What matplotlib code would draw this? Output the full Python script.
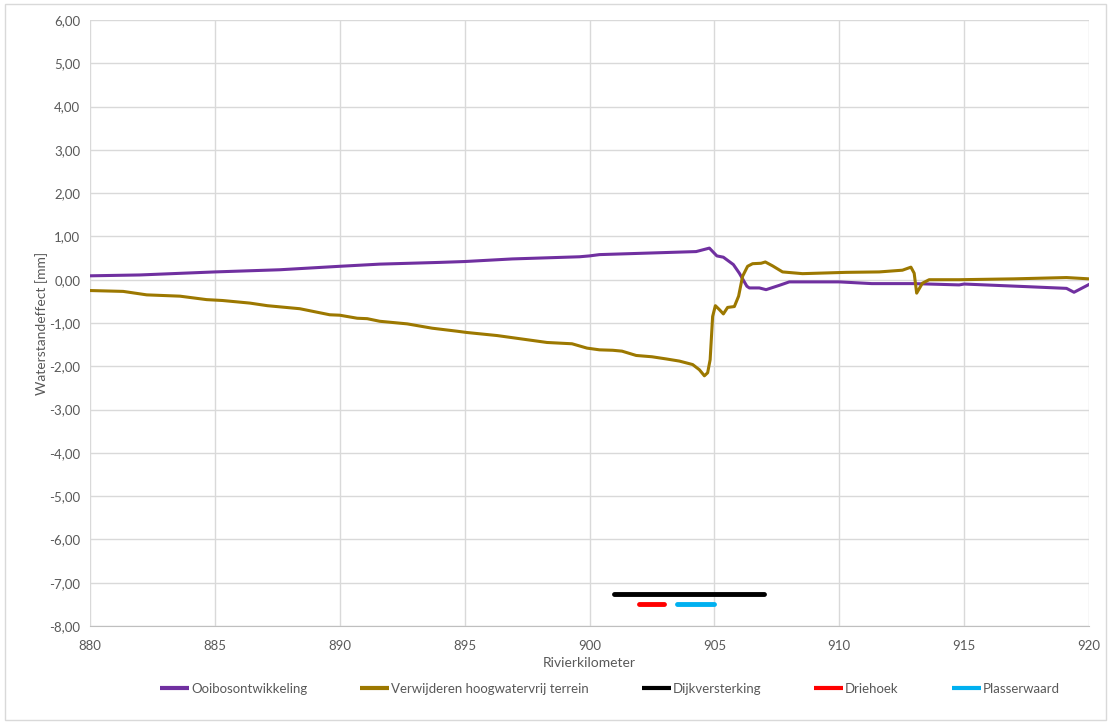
import matplotlib
matplotlib.use("Agg")
import matplotlib.pyplot as plt
from matplotlib.patches import Rectangle
from matplotlib.ticker import FuncFormatter, MultipleLocator

# Rivierkilometer and water level effect [mm] per measure
km_ooibos = [880.0, 882.0, 885.0, 887.6, 890.0, 891.6, 894.0, 895.0, 896.9, 899.6, 900.0,
             900.4, 904.27, 904.8, 905.1, 905.36, 905.76, 906.0, 906.3, 906.4, 906.8,
             907.07, 907.6, 908.0, 910.0, 911.3, 913.0, 914.8, 915.0, 917.5, 919.1,
             919.4, 920.0]
val_ooibos = [0.09, 0.11, 0.18, 0.23, 0.31, 0.36, 0.40, 0.42, 0.48, 0.53, 0.55,
              0.58, 0.65, 0.73, 0.55, 0.52, 0.35, 0.15, -0.15, -0.19, -0.19,
              -0.23, -0.13, -0.05, -0.05, -0.09, -0.09, -0.12, -0.10, -0.16, -0.20,
              -0.29, -0.11]

km_verwijderen = [880.0, 881.33, 882.27, 883.6, 884.67, 885.3, 886.4, 887.1, 888.4, 889.6,
                  890.0, 890.7, 891.1, 891.6, 892.7, 893.7, 894.7, 895.1, 896.3, 897.3,
                  898.3, 899.3, 899.9, 900.4, 900.93, 901.3, 901.87, 902.5, 903.07, 903.6,
                  904.13, 904.4, 904.6, 904.73, 904.83, 904.93, 905.04, 905.2, 905.36,
                  905.53, 905.8, 905.97, 906.13, 906.33, 906.53, 906.87, 907.04, 907.33,
                  907.73, 908.53, 910.27, 911.6, 912.53, 912.87, 913.0, 913.1, 913.33,
                  913.6, 914.8, 917.0, 919.1, 920.0]
val_verwijderen = [-0.25, -0.27, -0.35, -0.38, -0.46, -0.48, -0.54, -0.60, -0.67, -0.81,
                   -0.82, -0.89, -0.90, -0.96, -1.02, -1.12, -1.19, -1.22, -1.29, -1.37,
                   -1.45, -1.48, -1.58, -1.62, -1.63, -1.65, -1.75, -1.78, -1.83, -1.88,
                   -1.96, -2.08, -2.22, -2.15, -1.85, -0.85, -0.60, -0.69, -0.79,
                   -0.64, -0.62, -0.38, 0.08, 0.31, 0.37, 0.38, 0.41, 0.32,
                   0.18, 0.14, 0.17, 0.18, 0.22, 0.29, 0.15, -0.31, -0.08,
                   0.0, 0.0, 0.02, 0.05, 0.02]

# Extent of the individual projects along the river
km_dijk = [901.0, 907.0]
val_dijk = [-7.25, -7.25]
km_driehoek = [902.0, 903.0]
val_driehoek = [-7.5, -7.5]
km_plasserwaard = [903.5, 905.0]
val_plasserwaard = [-7.5, -7.5]

series_names = ["Ooibosontwikkeling", "Verwijderen hoogwatervrij terrein",
                "Dijkversterking", "Driehoek", "Plasserwaard"]

plt.rcParams['font.family'] = ['Lato', 'DejaVu Sans']
text_col = "#595959"
grid_col = "#d9d9d9"

fig = plt.figure(figsize=(11.11, 7.25), dpi=100)
ax = fig.add_axes([90 / 1111, 1 - 626 / 725, (1089 - 90) / 1111, (626 - 20) / 725])

ax.plot(km_ooibos, val_ooibos, color="#7030A0", lw=2.2, label=series_names[0])
ax.plot(km_verwijderen, val_verwijderen, color="#9C7800", lw=2.2, label=series_names[1])
ax.plot(km_dijk, val_dijk, color="black", lw=3.5, solid_capstyle="round", label=series_names[2])
ax.plot(km_driehoek, val_driehoek, color="#FF0000", lw=3.5, solid_capstyle="round", label=series_names[3])
ax.plot(km_plasserwaard, val_plasserwaard, color="#00B0F0", lw=3.5, solid_capstyle="round", label=series_names[4])

ax.set_xlim(880, 920)
ax.set_ylim(-8, 6)
ax.xaxis.set_major_locator(MultipleLocator(5))
ax.yaxis.set_major_locator(MultipleLocator(1))
ax.yaxis.set_major_formatter(FuncFormatter(lambda v, p: f"{v:.2f}".replace(".", ",")))
ax.grid(True, color=grid_col, lw=1)
ax.set_axisbelow(True)
for side in ("top", "right", "left"):
    ax.spines[side].set_visible(False)
ax.spines["bottom"].set_color("#bfbfbf")
ax.tick_params(length=0, colors=text_col, labelsize=9.5)
ax.tick_params(axis="x", pad=10)
ax.tick_params(axis="y", pad=7)

ax.set_xlabel("Rivierkilometer", color=text_col, fontsize=10, labelpad=4)
ax.set_ylabel("Waterstandeffect [mm]", color=text_col, fontsize=10, labelpad=1)

leg = fig.legend(loc="center", bbox_to_anchor=(0.549, 1 - 689 / 725), ncol=5, frameon=False,
                 fontsize=9.5, handlelength=2.2, handletextpad=0.15, columnspacing=4.0)
for t in leg.get_texts():
    t.set_color(text_col)
for h in leg.get_lines():
    h.set_linewidth(3)
    h.set_solid_capstyle("butt")

fig.patches.append(Rectangle((5 / 1111, 1 - 720 / 725), 1101 / 1111, 716 / 725,
                             transform=fig.transFigure, fill=False, edgecolor="#d9d9d9", lw=1))

fig.savefig("out.png", dpi=100, facecolor="white")
